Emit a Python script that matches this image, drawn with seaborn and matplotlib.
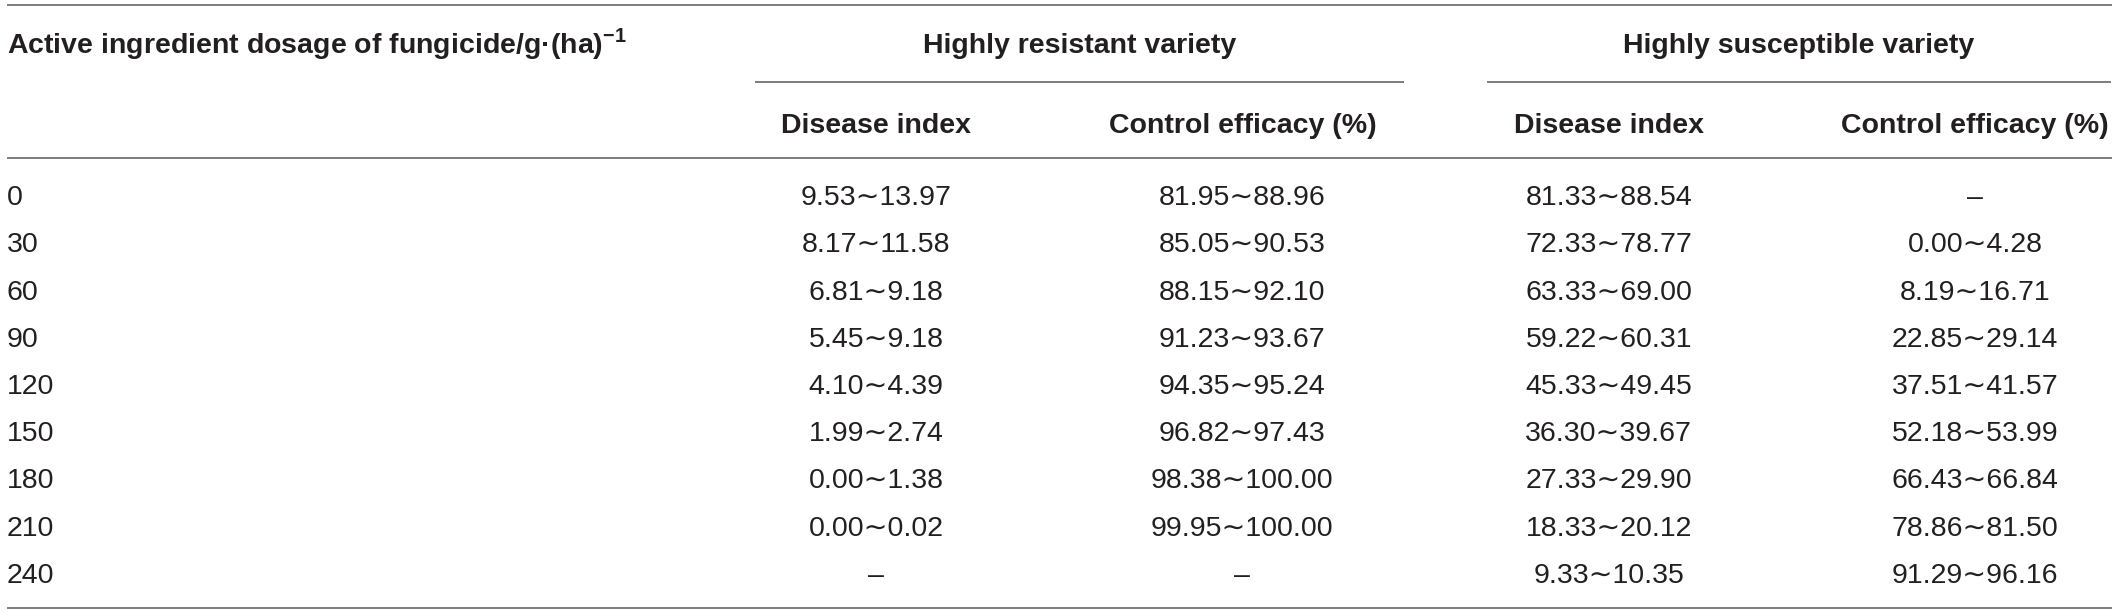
import numpy as np
import pandas as pd
import matplotlib
matplotlib.use("Agg")
import matplotlib.pyplot as plt
from matplotlib.colors import ListedColormap
import seaborn as sns

# --- datos de la tabla ---
dosages = [0, 30, 60, 90, 120, 150, 180, 210, 240]

res_di_low = [9.53, 8.17, 6.81, 5.45, 4.10, 1.99, 0.00, 0.00, None]
res_di_high = [13.97, 11.58, 9.18, 9.18, 4.39, 2.74, 1.38, 0.02, None]
res_ce_low = [81.95, 85.05, 88.15, 91.23, 94.35, 96.82, 98.38, 99.95, None]
res_ce_high = [88.96, 90.53, 92.10, 93.67, 95.24, 97.43, 100.00, 100.00, None]
sus_di_low = [81.33, 72.33, 63.33, 59.22, 45.33, 36.30, 27.33, 18.33, 9.33]
sus_di_high = [88.54, 78.77, 69.00, 60.31, 49.45, 39.67, 29.90, 20.12, 10.35]
sus_ce_low = [None, 0.00, 8.19, 22.85, 37.51, 52.18, 66.43, 78.86, 91.29]
sus_ce_high = [None, 4.28, 16.71, 29.14, 41.57, 53.99, 66.84, 81.50, 96.16]

dosage_header = r"Active ingredient dosage of fungicide/g·(ha)$^{\mathbf{-1}}$"
group_headers = ["Highly resistant variety", "Highly susceptible variety"]
sub_headers = ["Disease index", "Control efficacy (%)", "Disease index", "Control efficacy (%)"]

# --- layout (pixeles de la imagen) ---
W, H = 2118, 614
COL0_PX, COL_STEP = 876, 366.33
ROW0_PX, ROW_STEP = 205, 47.25
LEFT, RIGHT = 7, 2112
TXT = "#231f20"
LINE = "#7d7d7d"
FS = 20.5


def px_x(p):
    return (p - COL0_PX) / COL_STEP + 0.5


def px_y(p):
    return (p - ROW0_PX) / ROW_STEP + 0.5


def rango(lo, hi):
    if lo is None:
        return "\u2013"
    return f"{lo:.2f}\u223c{hi:.2f}"


sns.set_theme(style="white")
plt.rcParams["font.family"] = ["Liberation Sans", "DejaVu Sans"]
plt.rcParams["mathtext.fontset"] = "custom"
plt.rcParams["mathtext.rm"] = "Liberation Sans"
plt.rcParams["mathtext.bf"] = "Liberation Sans:bold"

pares = [(res_di_low, res_di_high), (res_ce_low, res_ce_high),
         (sus_di_low, sus_di_high), (sus_ce_low, sus_ce_high)]
etiquetas = pd.DataFrame({f"c{j}": [rango(a, b) for a, b in zip(lo, hi)]
                          for j, (lo, hi) in enumerate(pares)})
valores = pd.DataFrame({f"c{j}": [0.0 if a is None else a for a in lo]
                        for j, (lo, hi) in enumerate(pares)})

fig = plt.figure(figsize=(W / 100, H / 100), dpi=100)
ax = fig.add_axes([0, 0, 1, 1])

# celdas de datos con heatmap blanco + anotaciones
sns.heatmap(valores, annot=etiquetas.values, fmt="", cmap=ListedColormap(["white"]),
            cbar=False, ax=ax,
            annot_kws=dict(fontsize=FS, va="baseline", color=TXT))

# primera columna (dosis), alineada a la izquierda
for i, d in enumerate(dosages):
    ax.text(px_x(LEFT), i + 0.5, str(d), ha="left", va="baseline", fontsize=FS, color=TXT)

# encabezados
ax.text(px_x(LEFT), px_y(53), dosage_header, ha="left", va="baseline",
        fontsize=FS, fontweight="bold", color=TXT)
grupos = [(755, 1404), (1487, 2111)]
for (x0, x1), g in zip(grupos, group_headers):
    ax.text(px_x((x0 + x1) / 2), px_y(53), g, ha="center", va="baseline",
            fontsize=FS, fontweight="bold", color=TXT)
    ax.hlines(px_y(82), px_x(x0), px_x(x1), color=LINE, lw=1.4, zorder=3)
for j, s in enumerate(sub_headers):
    ax.text(j + 0.5, px_y(133), s, ha="center", va="baseline",
            fontsize=FS, fontweight="bold", color=TXT)

# lineas horizontales de la tabla
for yp in [5, 158, 608]:
    ax.hlines(px_y(yp), px_x(LEFT), px_x(RIGHT), color=LINE, lw=1.4, zorder=3)

ax.set_xlim(px_x(0), px_x(W))
ax.set_ylim(px_y(H), px_y(0))
ax.axis("off")

fig.savefig("out.png", dpi=100)
